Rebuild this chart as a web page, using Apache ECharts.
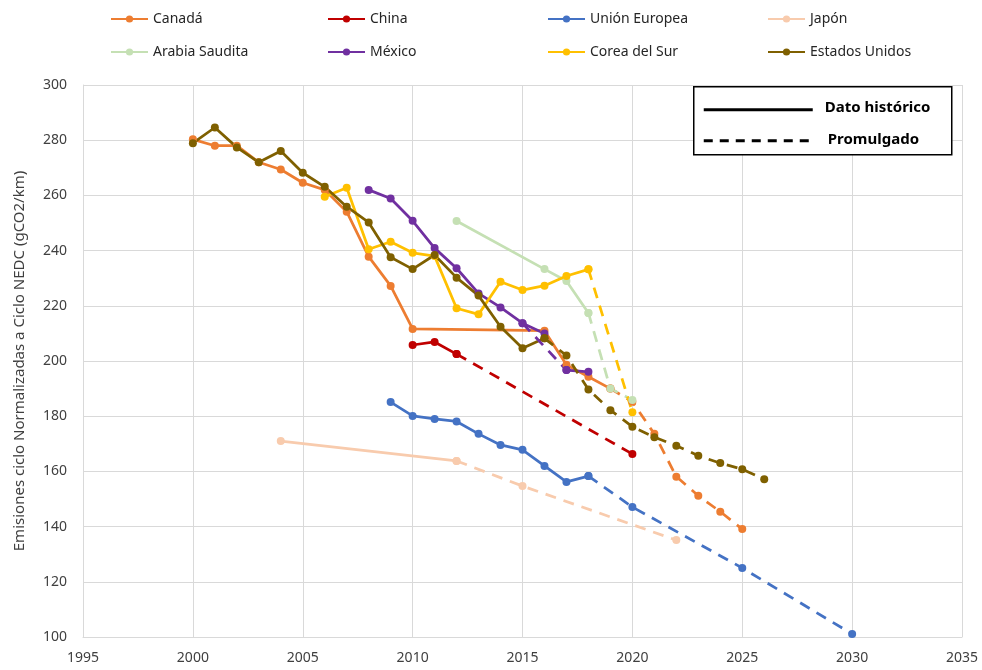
<!DOCTYPE html>
<html>
<head>
<meta charset="utf-8">
<title>Emisiones</title>
<script src="https://cdn.jsdelivr.net/npm/echarts@6/dist/echarts.min.js"></script>
<style>
    html, body { margin: 0; padding: 0; background: #fff; }
    #chart { width: 982px; height: 670px; }
</style>
</head>
<body>
<div id="chart"></div>
<script>
// datos históricos [año, gCO2/km]
var canadaHist = [[2000, 280.3], [2001, 278], [2002, 278], [2003, 272], [2004, 269.4], [2005, 264.6], [2006, 262],
    [2007, 254.1], [2008, 237.8], [2009, 227.2], [2010, 211.6], [2016, 211], [2017, 198.6], [2018, 194.3], [2019, 190]];
var chinaHist = [[2010, 205.8], [2011, 206.9], [2012, 202.5]];
var ueHist = [[2009, 185.1], [2010, 180.1], [2011, 179], [2012, 178.1], [2013, 173.6], [2014, 169.6], [2015, 167.8],
    [2016, 162], [2017, 156.2], [2018, 158.3]];
var japonHist = [[2004, 171], [2012, 163.8]];
var arabiaHist = [[2012, 250.7], [2016, 233.3], [2017, 229], [2018, 217.4]];
var mexicoHist = [[2008, 262], [2009, 258.9], [2010, 250.8], [2011, 240.9], [2012, 233.6], [2013, 224.5], [2014, 219.4],
    [2015, 213.7], [2016, 210]];
var mexicoHist2 = [[2017, 196.7], [2018, 196.1]];
var coreaHist = [[2006, 259.5], [2007, 262.8], [2008, 240.5], [2009, 243.2], [2010, 239.2], [2011, 238], [2012, 219.1],
    [2013, 216.9], [2014, 228.7], [2015, 225.7], [2016, 227.3], [2017, 230.8], [2018, 233.2]];
var eeuuHist = [[2000, 278.9], [2001, 284.6], [2002, 277.4], [2003, 272], [2004, 276.1], [2005, 268.2], [2006, 263.1],
    [2007, 255.9], [2008, 250.2], [2009, 237.6], [2010, 233.3], [2011, 238.4], [2012, 230.2], [2013, 223.7],
    [2014, 212.4], [2015, 204.6], [2016, 208.2]];

// metas promulgadas
var canadaProm = [[2019, 190], [2020, 185.2], [2021, 173.6], [2022, 158.1], [2023, 151.2], [2024, 145.4], [2025, 139.1]];
var chinaProm = [[2012, 202.5], [2020, 166.3]];
var ueProm = [[2018, 158.3], [2020, 147.1], [2025, 125], [2030, 101.1]];
var japonProm = [[2012, 163.8], [2015, 154.7], [2022, 135.1]];
var arabiaProm = [[2018, 217.4], [2019, 190], [2020, 185.9]];
var mexicoProm = [[2015, 213.7], [2017, 196.7]];
var coreaProm = [[2018, 233.2], [2020, 181.4]];
var eeuuProm = [[2016, 208.2], [2017, 202], [2018, 189.7], [2019, 182.2], [2020, 176.2], [2021, 172.4], [2022, 169.3],
    [2023, 165.7], [2024, 163], [2025, 160.8], [2026, 157.2]];

var paises = ['Canadá', 'China', 'Unión Europea', 'Japón', 'Arabia Saudita', 'México', 'Corea del Sur', 'Estados Unidos'];
var colores = ['#ED7D31', '#C00000', '#4472C4', '#F8CBAD', '#C5E0B4', '#7030A0', '#FFC000', '#7F6000'];
var historicos = [canadaHist, chinaHist, ueHist, japonHist, arabiaHist, mexicoHist, coreaHist, eeuuHist];
var promulgados = [canadaProm, chinaProm, ueProm, japonProm, arabiaProm, mexicoProm, coreaProm, eeuuProm];

var fuente = '"Noto Sans", "Open Sans", sans-serif';

function linea(nombre, color, data, discontinua) {
    return {
        name: nombre,
        type: 'line',
        data: data,
        symbol: 'circle',
        symbolSize: 8,
        showAllSymbol: true,
        lineStyle: {width: 2.75, color: color, type: discontinua ? [11, 8] : 'solid'},
        itemStyle: {color: color},
        emphasis: {disabled: true}
    };
}

var series = [];
historicos.forEach(function (d, i) {
    series.push(linea(paises[i], colores[i], d, false));
});
series.push(linea('México', colores[5], mexicoHist2, false));
promulgados.forEach(function (d, i) {
    series.push(linea(paises[i], colores[i], d, true));
});

// leyenda en 4 columnas
var columnasX = [105, 322, 542, 762];
var legends = columnasX.map(function (x, c) {
    return {
        orient: 'vertical',
        left: x,
        top: 7,
        itemWidth: 37,
        itemHeight: 9,
        itemGap: 19,
        selectedMode: false,
        textStyle: {fontFamily: fuente, fontSize: 14, color: '#262626'},
        data: [paises[c], paises[c + 4]]
    };
});

var myChart = echarts.init(document.getElementById('chart'));
var option = {
    animation: false,
    backgroundColor: '#fff',
    legend: legends,
    grid: {left: 83, right: 20, top: 85, bottom: 33, containLabel: false},
    xAxis: {
        type: 'value',
        min: 1995,
        max: 2035,
        interval: 5,
        axisLine: {show: true, lineStyle: {color: '#d9d9d9'}},
        axisTick: {show: false},
        axisLabel: {
            margin: 14,
            fontFamily: fuente,
            fontSize: 14,
            color: '#404040',
            formatter: function (v) { return String(v); }
        },
        splitLine: {show: true, lineStyle: {color: '#d9d9d9'}}
    },
    yAxis: {
        type: 'value',
        min: 100,
        max: 300,
        interval: 20,
        name: 'Emisiones ciclo Normalizadas a Ciclo NEDC (gCO2/km)',
        nameLocation: 'middle',
        nameGap: 56,
        nameTextStyle: {fontFamily: fuente, fontSize: 15, color: '#404040'},
        axisLine: {show: true, lineStyle: {color: '#d9d9d9'}},
        axisTick: {show: false},
        axisLabel: {margin: 16, fontFamily: fuente, fontSize: 14, color: '#404040'},
        splitLine: {show: true, lineStyle: {color: '#d9d9d9'}}
    },
    graphic: [{
        type: 'group',
        left: 693,
        top: 86,
        z: 100,
        children: [{
            type: 'rect',
            z: 100,
            shape: {x: 0, y: 0, width: 258, height: 68},
            style: {fill: '#fff', stroke: '#000', lineWidth: 1.5}
        }, {
            type: 'line',
            z: 101,
            shape: {x1: 10, y1: 23, x2: 119, y2: 23},
            style: {stroke: '#000', lineWidth: 3}
        }, {
            type: 'line',
            z: 101,
            shape: {x1: 10, y1: 54, x2: 121, y2: 54},
            style: {stroke: '#000', lineWidth: 3, lineDash: [9, 7]}
        }, {
            type: 'text',
            z: 101,
            x: 131,
            y: 21,
            style: {text: 'Dato histórico', fontFamily: fuente, fontSize: 15, fontWeight: 'bold',
                fill: '#000', verticalAlign: 'middle'}
        }, {
            type: 'text',
            z: 101,
            x: 134,
            y: 53,
            style: {text: 'Promulgado', fontFamily: fuente, fontSize: 15, fontWeight: 'bold',
                fill: '#000', verticalAlign: 'middle'}
        }]
    }],
    series: series
};
myChart.setOption(option);
window.onresize = myChart.resize;
</script>
</body>
</html>
